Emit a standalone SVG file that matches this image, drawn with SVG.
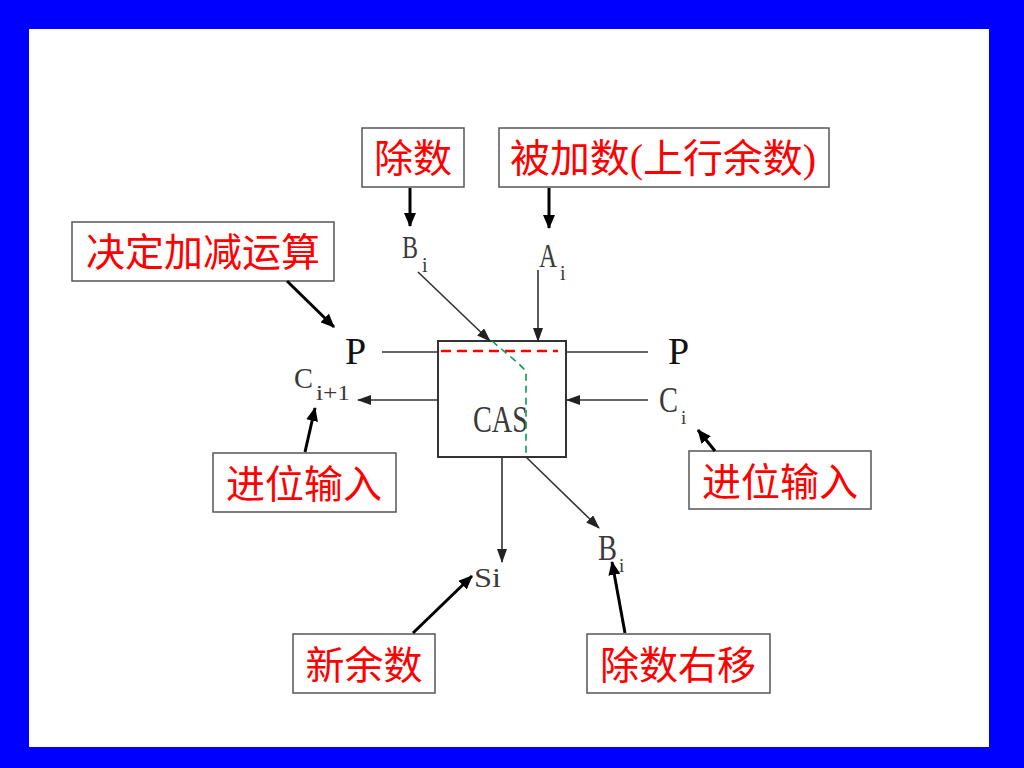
<svg xmlns="http://www.w3.org/2000/svg" width="1024" height="768" viewBox="0 0 1024 768">
<defs>
<style>
.lbl{fill:#fff;stroke:#555;stroke-width:1.5}
.lt{font-family:"Liberation Serif","Noto Sans CJK SC",serif;font-size:39px;fill:#ff0000;text-anchor:middle}
.sym{font-family:"Liberation Serif",serif;fill:#3a3a3a}
.pt{font-family:"Liberation Serif",serif;fill:#111;font-size:38px}
.bk{stroke:#000;stroke-width:3;fill:none}
.gr{stroke:#333;stroke-width:1.6;fill:none}
</style>
<marker id="ab" markerUnits="userSpaceOnUse" viewBox="0 0 14 12" refX="13" refY="6" markerWidth="14" markerHeight="12" orient="auto"><path d="M0,0L14,6L0,12z" fill="#000"/></marker>
<marker id="ag" markerUnits="userSpaceOnUse" viewBox="0 0 14 10" refX="13" refY="5" markerWidth="14" markerHeight="10" orient="auto"><path d="M0,0L14,5L0,10z" fill="#222"/></marker>
</defs>
<rect x="0" y="0" width="1024" height="768" fill="#0000ff"/>
<rect x="29" y="29" width="960" height="718" fill="#ffffff"/>

<g id="cas">
<rect x="438" y="341" width="128" height="116" fill="none" stroke="#333" stroke-width="2"/>
<text x="473" y="432" class="sym" font-size="37" textLength="55" lengthAdjust="spacingAndGlyphs">CAS</text>
</g>

<g id="lbl-chushu"><rect class="lbl" x="362" y="128" width="102" height="59"/><text class="lt" x="413" y="172">除数</text></g>
<g id="lbl-beijiashu"><rect class="lbl" x="499" y="128" width="330" height="59"/><text class="lt" x="663" y="172" textLength="306" lengthAdjust="spacingAndGlyphs">被加数(上行余数)</text></g>
<g id="lbl-jueding"><rect class="lbl" x="72" y="222" width="262" height="59"/><text class="lt" x="203" y="266">决定加减运算</text></g>
<g id="lbl-jinwei-l"><rect class="lbl" x="213" y="453" width="183" height="59"/><text class="lt" x="304" y="498">进位输入</text></g>
<g id="lbl-jinwei-r"><rect class="lbl" x="689" y="451" width="182" height="58"/><text class="lt" x="780" y="496">进位输入</text></g>
<g id="lbl-xinyushu"><rect class="lbl" x="293" y="634" width="142" height="59"/><text class="lt" x="364" y="679">新余数</text></g>
<g id="lbl-youyi"><rect class="lbl" x="587" y="634" width="183" height="59"/><text class="lt" x="678" y="679">除数右移</text></g>

<g id="sym-bi-top"><text class="sym" x="402" y="258" font-size="32" textLength="16" lengthAdjust="spacingAndGlyphs">B</text><text class="sym" x="422" y="272" font-size="20">i</text></g>
<g id="sym-ai"><text class="sym" x="539" y="267" font-size="33" textLength="18" lengthAdjust="spacingAndGlyphs">A</text><text class="sym" x="560" y="280" font-size="20">i</text></g>
<g id="sym-p-l"><text class="pt" x="345" y="364">P</text></g>
<g id="sym-p-r"><text class="pt" x="668" y="364" fill="#333">P</text></g>
<g id="sym-ci1"><text class="sym" x="294" y="388" font-size="29" textLength="19" lengthAdjust="spacingAndGlyphs">C</text><text class="sym" x="316" y="400" font-size="20" textLength="34" lengthAdjust="spacingAndGlyphs">i+1</text></g>
<g id="sym-ci"><text class="sym" x="659" y="412" font-size="36" textLength="19" lengthAdjust="spacingAndGlyphs">C</text><text class="sym" x="681" y="424" font-size="19">i</text></g>
<g id="sym-si"><text class="sym" x="474" y="587" font-size="28" textLength="27" lengthAdjust="spacingAndGlyphs">Si</text></g>
<g id="sym-bi-bot"><text class="sym" x="598" y="560" font-size="36" textLength="19" lengthAdjust="spacingAndGlyphs">B</text><text class="sym" x="619" y="572" font-size="19">i</text></g>

<g id="connectors">
<line class="bk" x1="410" y1="188" x2="410" y2="226" marker-end="url(#ab)"/>
<line class="bk" x1="549" y1="188" x2="549" y2="228" marker-end="url(#ab)"/>
<line class="bk" x1="287" y1="281" x2="334" y2="327" marker-end="url(#ab)"/>
<line class="bk" x1="305" y1="452" x2="315" y2="408" marker-end="url(#ab)"/>
<line class="bk" x1="715" y1="451" x2="698" y2="430" marker-end="url(#ab)"/>
<line class="bk" x1="413" y1="633" x2="472" y2="576" marker-end="url(#ab)"/>
<line class="bk" x1="625" y1="633" x2="612" y2="562" marker-end="url(#ab)"/>

<line class="gr" x1="418" y1="272" x2="490" y2="341" marker-end="url(#ag)"/>
<line class="gr" x1="538" y1="270" x2="538" y2="341" marker-end="url(#ag)"/>
<line class="gr" x1="382" y1="352" x2="438" y2="352"/>
<line class="gr" x1="566" y1="352" x2="648" y2="352"/>
<line class="gr" x1="438" y1="400" x2="358" y2="400" marker-end="url(#ag)"/>
<line class="gr" x1="648" y1="400" x2="567" y2="400" marker-end="url(#ag)"/>
<line class="gr" x1="502" y1="457" x2="502" y2="562" marker-end="url(#ag)"/>
<line class="gr" x1="526" y1="457" x2="599" y2="528" marker-end="url(#ag)"/>

<line x1="441" y1="351" x2="558" y2="351" stroke="#ff0000" stroke-width="2.5" stroke-dasharray="10,6"/>
<polyline points="492,341 518,363 526,371 526,457" fill="none" stroke="#00a050" stroke-width="1.6" stroke-dasharray="7,5"/>
</g>
</svg>
